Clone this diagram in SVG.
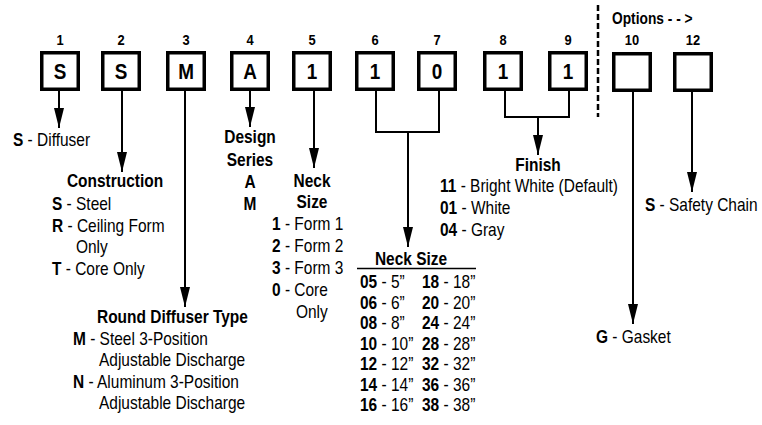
<svg xmlns="http://www.w3.org/2000/svg" width="762" height="425" viewBox="0 0 762 425">
<style>
text{font-family:"Liberation Sans",Arial,sans-serif;fill:#000}
.t{font-size:18px}
.b{font-weight:bold}
.n{font-size:15px;font-weight:bold;text-anchor:middle}
.c{font-size:22px;font-weight:bold;text-anchor:middle}
.m{text-anchor:middle}
.box{fill:#fff;stroke:#000;stroke-width:3.5}
.ln{fill:none;stroke:#000;stroke-width:2}
</style>
<defs>
<marker id="ah" markerUnits="userSpaceOnUse" markerWidth="22" markerHeight="12" refX="20" refY="5" orient="auto">
<path d="M0,0 L20,5 L0,10 Z" fill="#000"/>
</marker>
</defs>
<rect width="762" height="425" fill="#fff"/>

<g id="box1"><text class="n" transform="translate(60 45) scale(.86 1)">1</text><rect class="box" x="41.75" y="52.75" width="36.5" height="36.5"/><text class="c" transform="translate(60 79) scale(.86 1)">S</text></g>
<g id="box2"><text class="n" transform="translate(121 45) scale(.86 1)">2</text><rect class="box" x="102.75" y="52.75" width="36.5" height="36.5"/><text class="c" transform="translate(121 79) scale(.86 1)">S</text></g>
<g id="box3"><text class="n" transform="translate(186 45) scale(.86 1)">3</text><rect class="box" x="167.75" y="52.75" width="36.5" height="36.5"/><text class="c" transform="translate(186 79) scale(.86 1)">M</text></g>
<g id="box4"><text class="n" transform="translate(250 45) scale(.86 1)">4</text><rect class="box" x="231.75" y="52.75" width="36.5" height="36.5"/><text class="c" transform="translate(250 79) scale(.86 1)">A</text></g>
<g id="box5"><text class="n" transform="translate(312 45) scale(.86 1)">5</text><rect class="box" x="293.75" y="52.75" width="36.5" height="36.5"/><text class="c" transform="translate(312 79) scale(.86 1)">1</text></g>
<g id="box6"><text class="n" transform="translate(375 45) scale(.86 1)">6</text><rect class="box" x="356.75" y="52.75" width="36.5" height="36.5"/><text class="c" transform="translate(375 79) scale(.86 1)">1</text></g>
<g id="box7"><text class="n" transform="translate(437 45) scale(.86 1)">7</text><rect class="box" x="418.75" y="52.75" width="36.5" height="36.5"/><text class="c" transform="translate(437 79) scale(.86 1)">0</text></g>
<g id="box8"><text class="n" transform="translate(503 45) scale(.86 1)">8</text><rect class="box" x="484.75" y="52.75" width="36.5" height="36.5"/><text class="c" transform="translate(503 79) scale(.86 1)">1</text></g>
<g id="box9"><text class="n" transform="translate(568 45) scale(.86 1)">9</text><rect class="box" x="549.75" y="52.75" width="36.5" height="36.5"/><text class="c" transform="translate(568 79) scale(.86 1)">1</text></g>
<g id="options"><line x1="598" y1="5" x2="598" y2="117" stroke="#000" stroke-width="2.5" stroke-dasharray="6,3"/><text class="b" style="font-size:16px" transform="translate(612 24) scale(.86 1)">Options - - &gt;</text></g>
<g id="box10"><text class="n" transform="translate(632 45) scale(.86 1)">10</text><rect class="box" x="613.75" y="53.75" width="36.5" height="36.5"/></g>
<g id="box12"><text class="n" transform="translate(693 45) scale(.86 1)">12</text><rect class="box" x="674.75" y="53.75" width="36.5" height="36.5"/></g>

<g id="connectors">
<line class="ln" x1="59" y1="91" x2="59" y2="128" marker-end="url(#ah)"/>
<line class="ln" x1="122" y1="91" x2="122" y2="172" marker-end="url(#ah)"/>
<line class="ln" x1="185" y1="91" x2="185" y2="307" marker-end="url(#ah)"/>
<line class="ln" x1="250" y1="91" x2="250" y2="127" marker-end="url(#ah)"/>
<line class="ln" x1="314" y1="91" x2="314" y2="168" marker-end="url(#ah)"/>
<polyline class="ln" points="376,91 376,132 439,132 439,91"/>
<line class="ln" x1="408" y1="132" x2="408" y2="247" marker-end="url(#ah)"/>
<polyline class="ln" points="505,91 505,117 569,117 569,91"/>
<line class="ln" x1="538" y1="117" x2="538" y2="155" marker-end="url(#ah)"/>
<line class="ln" x1="633" y1="92" x2="633" y2="324" marker-end="url(#ah)"/>
<line class="ln" x1="692" y1="92" x2="692" y2="192" marker-end="url(#ah)"/>
</g>

<g id="diffuser" class="t"><text transform="translate(13 146) scale(.86 1)"><tspan class="b">S</tspan> - Diffuser</text></g>
<g id="construction" class="t">
<text class="b m" transform="translate(115 187) scale(.86 1)">Construction</text>
<text transform="translate(52 210) scale(.86 1)"><tspan class="b">S</tspan> - Steel</text>
<text transform="translate(52 232) scale(.86 1)"><tspan class="b">R</tspan> - Ceiling Form</text>
<text transform="translate(76 253) scale(.86 1)">Only</text>
<text transform="translate(52 275) scale(.86 1)"><tspan class="b">T</tspan> - Core Only</text>
</g>
<g id="diffuser-type" class="t">
<text class="b" transform="translate(97 323) scale(.86 1)">Round Diffuser Type</text>
<text transform="translate(73 345) scale(.86 1)"><tspan class="b">M</tspan> - Steel 3-Position</text>
<text transform="translate(99 366) scale(.86 1)">Adjustable Discharge</text>
<text transform="translate(73 388) scale(.86 1)"><tspan class="b">N</tspan> - Aluminum 3-Position</text>
<text transform="translate(99 409) scale(.86 1)">Adjustable Discharge</text>
</g>
<g id="design-series" class="t">
<text class="b m" transform="translate(250 143) scale(.86 1)">Design</text>
<text class="b m" transform="translate(250 166) scale(.86 1)">Series</text>
<text class="b m" transform="translate(250 188) scale(.86 1)">A</text>
<text class="b m" transform="translate(250 210) scale(.86 1)">M</text>
</g>
<g id="neck-size-form" class="t">
<text class="b m" transform="translate(312 187) scale(.86 1)">Neck</text>
<text class="b m" transform="translate(312 208) scale(.86 1)">Size</text>
<text transform="translate(272 230) scale(.86 1)"><tspan class="b">1</tspan> - Form 1</text>
<text transform="translate(272 252) scale(.86 1)"><tspan class="b">2</tspan> - Form 2</text>
<text transform="translate(272 274) scale(.86 1)"><tspan class="b">3</tspan> - Form 3</text>
<text transform="translate(272 296) scale(.86 1)"><tspan class="b">0</tspan> - Core</text>
<text transform="translate(296 318) scale(.86 1)">Only</text>
</g>
<g id="neck-size" class="t">
<text class="b m" transform="translate(411 265) scale(.86 1)">Neck Size</text>
<line x1="357" y1="268.5" x2="476" y2="268.5" stroke="#000" stroke-width="1.5"/>
<text transform="translate(360 288) scale(.86 1)"><tspan class="b">05</tspan> - 5”</text>
<text transform="translate(360 309) scale(.86 1)"><tspan class="b">06</tspan> - 6”</text>
<text transform="translate(360 329) scale(.86 1)"><tspan class="b">08</tspan> - 8”</text>
<text transform="translate(360 350) scale(.86 1)"><tspan class="b">10</tspan> - 10”</text>
<text transform="translate(360 370) scale(.86 1)"><tspan class="b">12</tspan> - 12”</text>
<text transform="translate(360 391) scale(.86 1)"><tspan class="b">14</tspan> - 14”</text>
<text transform="translate(360 411) scale(.86 1)"><tspan class="b">16</tspan> - 16”</text>
<text transform="translate(422 288) scale(.86 1)"><tspan class="b">18</tspan> - 18”</text>
<text transform="translate(422 309) scale(.86 1)"><tspan class="b">20</tspan> - 20”</text>
<text transform="translate(422 329) scale(.86 1)"><tspan class="b">24</tspan> - 24”</text>
<text transform="translate(422 350) scale(.86 1)"><tspan class="b">28</tspan> - 28”</text>
<text transform="translate(422 370) scale(.86 1)"><tspan class="b">32</tspan> - 32”</text>
<text transform="translate(422 391) scale(.86 1)"><tspan class="b">36</tspan> - 36”</text>
<text transform="translate(422 411) scale(.86 1)"><tspan class="b">38</tspan> - 38”</text>
</g>
<g id="finish" class="t">
<text class="b m" transform="translate(538 171) scale(.86 1)">Finish</text>
<text transform="translate(440 192) scale(.86 1)"><tspan class="b">11</tspan> - Bright White (Default)</text>
<text transform="translate(440 214) scale(.86 1)"><tspan class="b">01</tspan> - White</text>
<text transform="translate(440 236) scale(.86 1)"><tspan class="b">04</tspan> - Gray</text>
</g>
<g id="gasket" class="t"><text transform="translate(596 343) scale(.86 1)"><tspan class="b">G</tspan> - Gasket</text></g>
<g id="safety-chain" class="t"><text transform="translate(645 211) scale(.86 1)"><tspan class="b">S</tspan> - Safety Chain</text></g>
</svg>
